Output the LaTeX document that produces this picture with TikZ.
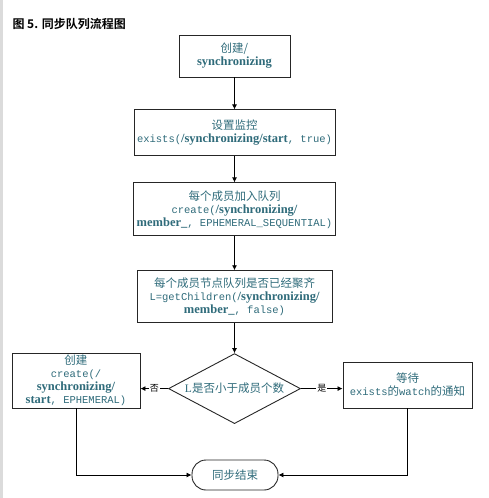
\documentclass[tikz,border=0pt]{standalone}
\usepackage{fontspec}
\usepackage{tikz}
\usetikzlibrary{positioning, arrows.meta, shapes.geometric}
\setmainfont{Liberation Serif}
\newfontfamily\cjk{Noto Sans CJK SC}
\newfontfamily\cjkbold{Noto Sans CJK SC Bold}
\newfontfamily\codefont{Liberation Mono}
\newfontfamily\namefont{Liberation Serif Bold}
\definecolor{flowtext}{HTML}{2F6B7A}
\newcommand{\cd}[1]{{\codefont\fontsize{10.5}{13}\selectfont #1}}
\newcommand{\nm}[1]{{\namefont\fontsize{12.5}{13}\selectfont #1}}
\tikzset{%
  node distance=30pt, % gap between two boxes
  every node/.style={font=\cjk\fontsize{11.5}{13}\selectfont, text=flowtext},
  stepbox/.style={draw=black!85, line width=0.9pt, align=center, inner sep=1pt},
  choice/.style={diamond, draw=black!85, line width=0.9pt, aspect=2, inner sep=0pt,
    minimum width=132pt, minimum height=70pt},
  endbox/.style={draw=black!85, line width=0.9pt, rounded corners=14pt,
    minimum width=86pt, minimum height=30pt},
  flow/.style={draw, ->, >={Latex[length=5pt,width=5pt]}, line width=0.8pt},
  answer/.style={fill=white, inner sep=1pt, font=\cjk\fontsize{9}{10}\selectfont, text=black}
}
\begin{document}
\begin{tikzpicture}[x=1pt, y=-1pt]
    \useasboundingbox (0,0) rectangle (488,498);
    \fill[black!14] (0,0) rectangle (2.5,498);
    \node[anchor=west, text=black, font=\cjkbold\fontsize{12}{14}\selectfont] (title) at (9,24) {图 5. 同步队列流程图};

    \node[stepbox, minimum width=111pt, minimum height=42pt] (mkdir) at (234.5,56)
      {创建/\\ \nm{synchronizing}};
    \node[stepbox, minimum width=201pt, minimum height=46pt, below=32pt of mkdir] (watch)
      {设置监控\\ \cd{exists(}\nm{/synchronizing/start}\cd{, true)}};
    \node[stepbox, minimum width=202pt, minimum height=53pt, below=26pt of watch] (join)
      {每个成员加入队列\\ \cd{create(}\nm{/synchronizing/}\\ \nm{member\_}\cd{, EPHEMERAL\_SEQUENTIAL)}};
    \node[stepbox, minimum width=195pt, minimum height=52pt, below=34pt of join] (check)
      {每个成员节点队列是否已经聚齐\\ \cd{L=getChildren(}\nm{/synchronizing/}\\ \nm{member\_}\cd{, false)}};
    \node[choice, below=30pt of check] (less) {{\rmfamily L}是否小于成员个数};

    \node[stepbox, minimum width=128pt, minimum height=55pt] (start) at (76,380.5)
      {创建\\ \cd{create(/}\\ \nm{synchronizing/}\\ \nm{start}\cd{, EPHEMERAL)}};
    \node[stepbox, minimum width=129pt, minimum height=46pt] (wait) at (407.5,385)
      {等待\\ \cd{exists}的\cd{watch}的通知};
    \node[endbox] (done) at (235,475) {同步结束};

    \draw[flow] (mkdir) -- (watch);
    \draw[flow] (watch) -- (join);
    \draw[flow] (join) -- (check);
    \draw[flow] (check) -- (less);
    \draw[flow] (less.west) -- node[answer] {否} (start.east |- less.west);
    \draw[flow] (less.east) -- node[answer] {是} (wait.west |- less.east);
    \draw[flow] (start.south) |- (done.west);
    \draw[flow] (wait.south) |- (done.east);
  \end{tikzpicture}
\end{document}
